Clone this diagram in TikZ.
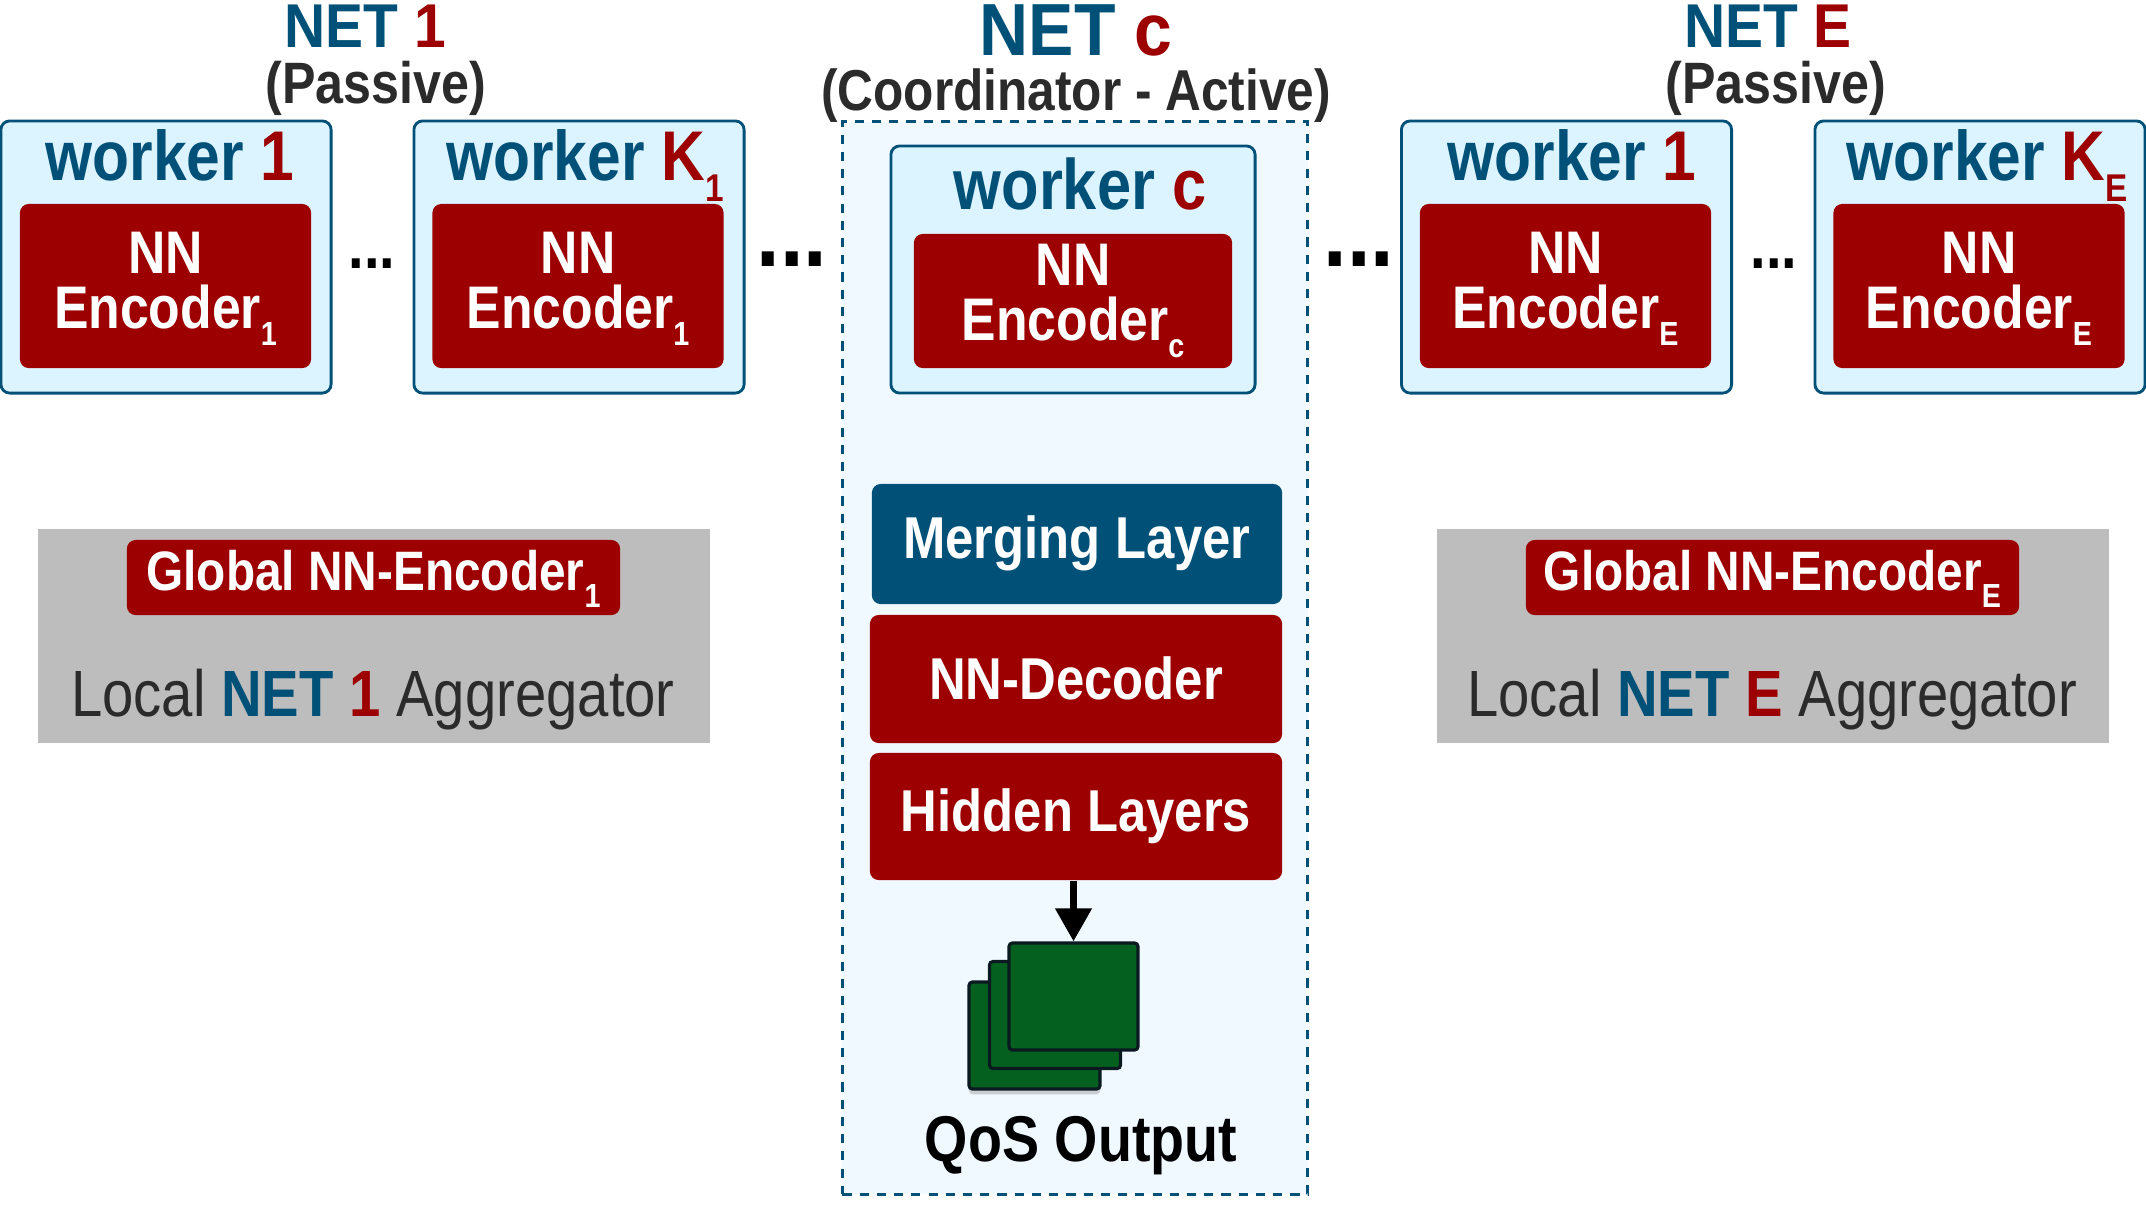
\documentclass[tikz,border=0pt]{standalone}
\usepackage{fontspec}
\usepackage{xcolor}
\usetikzlibrary{arrows.meta, shadows}
\setmainfont[FakeStretch=0.86]{Liberation Sans}
\newfontfamily\netfont[FakeStretch=0.92]{Liberation Sans}

\definecolor{netblue}{HTML}{005078}
\definecolor{netred}{HTML}{9C0000}
\definecolor{workerfill}{HTML}{DCF4FF}
\definecolor{coordfill}{HTML}{F0F9FF}
\definecolor{aggrgray}{HTML}{BDBDBD}
\definecolor{stackgreen}{HTML}{04601E}
\definecolor{stackedge}{HTML}{0A1A20}
\definecolor{darktext}{HTML}{2B2B2B}

\newcommand{\fs}[1]{\fontsize{#1}{#1}\selectfont}
\newcommand{\lowsub}[2]{\raisebox{#1}{\fs{9.5}#2}}

\tikzset{
    workerbox/.style={draw=netblue, fill=workerfill, line width=0.8pt, rounded corners=2.5pt, inner sep=0pt, minimum height=2.72cm},
    redbox/.style={fill=netred, text=white, rounded corners=2.5pt, inner sep=0pt, font=\fs{16.8}\bfseries, text height=0.72em, text depth=0pt},
    encbox/.style={fill=netred, text=white, rounded corners=2.5pt, inner sep=0pt, minimum height=1.64cm, align=center, font=\fontsize{17.1}{15.8}\selectfont\bfseries},
    aggrbox/.style={fill=aggrgray, inner sep=0pt, minimum width=6.72cm, minimum height=2.14cm},
    stackbox/.style={draw=stackedge, fill=stackgreen, line width=0.9pt, rounded corners=1pt, inner sep=0pt, minimum width=1.29cm, minimum height=1.07cm},
    title/.style={anchor=base, inner sep=0pt, font=\fs{#1}\bfseries},
    nettitle/.style={anchor=base, inner sep=0pt, font=\netfont\fs{#1}\bfseries},
    label/.style={anchor=base, inner sep=0pt, font=\fs{20}\bfseries}
}

\begin{document}
\begin{tikzpicture}[x=0.01cm, y=-0.01cm]
    \useasboundingbox (0,0) rectangle (2146,1214);

    % Titles
    \node[nettitle=17.6] (net1) at (365,47) {\textcolor{netblue}{NET} \textcolor{netred}{1}};
    \node[title=16.6, text=darktext] (pass1) at (376,103) {(Passive)};
    \node[nettitle=21] (netc) at (1076,55) {\textcolor{netblue}{NET} \textcolor{netred}{c}};
    \node[title=16.4, text=darktext] (coord) at (1076,110) {(Coordinator - Active)};
    \node[nettitle=17.6] (netE) at (1768,47) {\textcolor{netblue}{NET} \textcolor{netred}{E}};
    \node[title=16.6, text=darktext] (passE) at (1776,103) {(Passive)};

    % Coordinator frame
    \node[draw=netblue, fill=coordfill, line width=0.7pt, dash pattern=on 2.6pt off 2.3pt, inner sep=0pt, minimum width=4.65cm, minimum height=10.72cm] (frame) at (1075,658) {};

    % Passive workers
    \foreach \id/\wx/\ex/\lx/\who/\sub in {a/166/165.5/170/1/1, b/579/578/585/{K\lowsub{-6pt}{\fs{11}1}}/1, d/1566.5/1565.5/1572/1/E, e/1980/1979/1987/{K\lowsub{-6pt}{\fs{11}E}}/E} {
        \node[workerbox, minimum width=3.3cm] (wk\id) at (\wx,257) {};
        \node[encbox, minimum width=2.91cm] (enc\id) at (\ex,286) {\rule{0pt}{13.2pt}NN\\Encoder\lowsub{-4.8pt}{\sub}};
        \node[label] (lab\id) at (\lx,180.5) {\textcolor{netblue}{worker} \textcolor{netred}{\who}};
    }

    % Coordinator worker
    \node[workerbox, minimum width=3.64cm, minimum height=2.47cm] (wkc) at (1073,269.5) {};
    \node[encbox, minimum width=3.18cm, minimum height=1.34cm] (encc) at (1073,301) {NN\\Encoder\lowsub{-4.8pt}{c}};
    \node[label, font=\fs{20.3}\bfseries] (labc) at (1080,209) {\textcolor{netblue}{worker} \textcolor{netred}{c}};

    % Dots
    \node[title=18.5] (dots1) at (372,268) {...};
    \node[title=28] (dots2) at (792,266) {...};
    \node[title=28] (dots3) at (1359,266) {...};
    \node[title=18.5] (dots4) at (1774,268) {...};

    % Local aggregators
    \foreach \id/\ax/\bx/\tx/\net in {a/374/373.5/373/1, e/1773/1772.5/1772/E} {
        \node[aggrbox] (ag\id) at (\ax,636) {};
        \node[redbox, minimum width=4.93cm, minimum height=0.75cm, font=\fs{15.8}\bfseries] (gl\id) at (\bx,577.5) {Global NN-Encoder\lowsub{-4.8pt}{\net}};
        \node[anchor=base, inner sep=0pt, font=\fs{18.6}, text=darktext] (lo\id) at (\tx,716) {Local \textbf{\textcolor{netblue}{NET}} \textbf{\textcolor{netred}{\net}} Aggregator};
    }

    % Central layers
    \node[redbox, fill=netblue, minimum width=4.1cm, minimum height=1.2cm, text height=0.8em] (merge) at (1077,544) {Merging Layer};
    \node[redbox, minimum width=4.12cm, minimum height=1.28cm, text height=1.15em] (dec) at (1076,679) {NN-Decoder};
    \node[redbox, minimum width=4.12cm, minimum height=1.27cm, text height=0.86em] (hid) at (1076,816.5) {Hidden Layers};

    % Output stack
    \node[stackbox, drop shadow={shadow xshift=0pt, shadow yshift=-1.5pt, opacity=0.35}, minimum width=1.31cm] (outc) at (1034.5,1035.5) {};
    \node[stackbox, minimum width=1.31cm] (outb) at (1055,1015) {};
    \node[stackbox] (outa) at (1073.5,996.5) {};
    \draw[-{Triangle[length=9.4pt, width=10pt]}, line width=2pt] (hid.south -| outa.north) -- (outa.north);
    \node[anchor=base, inner sep=0pt, font=\fs{18.4}\bfseries] (qos) at (1081,1161) {QoS Output};
\end{tikzpicture}
\end{document}
